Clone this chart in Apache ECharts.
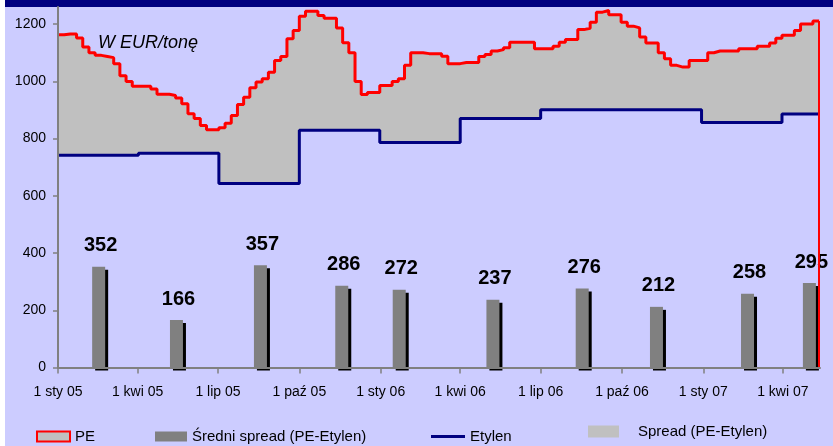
<!DOCTYPE html>
<html>
<head>
<meta charset="utf-8">
<script src="https://cdn.jsdelivr.net/npm/echarts@6/dist/echarts.min.js"></script>
<style>
  html, body { margin: 0; padding: 0; background: #fff; }
  #chart {
    width: 833px;
    height: 446px;
    background:
      linear-gradient(#000080, #000080) 5px 0 / 828px 7px no-repeat,
      linear-gradient(#ccccff, #ccccff) 5px 0 / 828px 446px no-repeat,
      #fff;
  }
</style>
</head>
<body>
<div id="chart"></div>
<script>
// tygodniowe notowania od 1 sty 05
const peWeekly = [
  1163, 1166, 1166, 1152, 1120, 1100, 1091, 1087, 1083, 1062,
  1020, 1000, 983, 983, 983, 973, 955, 955, 951, 942,
  922, 887, 870, 846, 831, 831, 838, 854, 881, 919,
  945, 978, 998, 1009, 1032, 1073, 1087, 1149, 1178, 1228,
  1245, 1245, 1230, 1221, 1221, 1187, 1135, 1100, 1000, 954,
  961, 961, 986, 986, 1000, 1009, 1056, 1100, 1100, 1097,
  1097, 1097, 1088, 1062, 1062, 1066, 1066, 1066, 1087, 1094,
  1106, 1111, 1118, 1137, 1137, 1137, 1137, 1114, 1114, 1114,
  1123, 1137, 1146, 1146, 1181, 1186, 1207, 1242, 1248, 1233,
  1233, 1207, 1193, 1187, 1155, 1134, 1134, 1100, 1079, 1056,
  1050, 1050, 1073, 1073, 1073, 1100, 1106, 1106, 1106, 1106,
  1114, 1114, 1114, 1123, 1123, 1134, 1151, 1161, 1161, 1178,
  1201, 1201, 1211, 1211
]
const etylenWeekly = [
  742, 742, 742, 742, 742, 742, 742, 742, 742, 742, 742, 742, 742,
  749, 749, 749, 749, 749, 749, 749, 749, 749, 749, 749, 749, 749,
  643, 643, 643, 643, 643, 643, 643, 643, 643, 643, 643, 643, 643,
  829, 829, 829, 829, 829, 829, 829, 829, 829, 829, 829, 829, 829,
  786, 786, 786, 786, 786, 786, 786, 786, 786, 786, 786, 786, 786,
  870, 870, 870, 870, 870, 870, 870, 870, 870, 870, 870, 870, 870,
  901, 901, 901, 901, 901, 901, 901, 901, 901, 901, 901, 901, 901,
  901, 901, 901, 901, 901, 901, 901, 901, 901, 901, 901, 901, 901,
  856, 856, 856, 856, 856, 856, 856, 856, 856, 856, 856, 856, 856,
  886, 886, 886, 886, 886, 886, 886
]
// średni spread kwartalny
const spreadDates = ['2005-02-16', '2005-05-15', '2005-08-18', '2005-11-18', '2006-01-22',
  '2006-05-08', '2006-08-17', '2006-11-09', '2007-02-20', '2007-05-01']
const spreadValues = [352, 166, 357, 286, 272, 237, 276, 212, 258, 295]
const quarterStarts = [
  [2005, 0], [2005, 3], [2005, 6], [2005, 9],
  [2006, 0], [2006, 3], [2006, 6], [2006, 9],
  [2007, 0], [2007, 3]
]
const monthNames = { 0: 'sty', 3: 'kwi', 6: 'lip', 9: 'paź' }
const yTicks = [0, 200, 400, 600, 800, 1000, 1200]

const weekDates = peWeekly.map((v, i) => +new Date(2005, 0, 1 + 7 * i))
const quarterTicks = quarterStarts.map(q => +new Date(q[0], q[1], 1))
const toTime = s => {
  let p = s.split('-').map(Number)
  return +new Date(p[0], p[1] - 1, p[2])
}
const lastIdx = peWeekly.length - 1
const bgColor = '#ccccff'

const font = '"Liberation Sans", Arial, sans-serif'
const legendText = { fontSize: 15, color: '#000', fontFamily: font }
const chart = echarts.init(document.getElementById('chart'))

chart.setOption({
  backgroundColor: 'transparent',
  textStyle: { fontFamily: font },
  animation: false,
  title: {
    text: 'W EUR/tonę',
    left: 93,
    top: 29,
    textStyle: { fontFamily: font, fontStyle: 'italic', fontWeight: 'normal', fontSize: 18, color: '#000' }
  },
  grid: { left: 58, right: 13, top: 7, bottom: 78.5 },
  legend: [
    {
      left: 36, top: 429, padding: 0, itemWidth: 33, itemHeight: 10,
      textStyle: legendText,
      data: [{ name: 'PE', icon: 'rect', itemStyle: { color: '#c0c0c0', borderColor: '#ff0000', borderWidth: 2 } }]
    },
    {
      left: 155, top: 429, padding: 0, itemWidth: 32, itemHeight: 10,
      textStyle: legendText,
      data: [{ name: 'Średni spread (PE-Etylen)', icon: 'rect', itemStyle: { color: '#808080', shadowColor: 'transparent', shadowOffsetX: 0, shadowOffsetY: 0 } }]
    },
    {
      left: 431, top: 429, padding: 0, itemWidth: 34, itemHeight: 3,
      textStyle: legendText,
      data: [{ name: 'Etylen', icon: 'rect', itemStyle: { color: '#000080' } }]
    },
    {
      left: 588, top: 424, padding: 0, itemWidth: 31, itemHeight: 12,
      textStyle: Object.assign({ padding: [0, 0, 0, 14] }, legendText),
      data: [{ name: 'Spread (PE-Etylen)', icon: 'rect', itemStyle: { color: '#c0c0c0', borderWidth: 0 } }]
    }
  ],
  xAxis: {
    type: 'value',
    min: +new Date(2005, 0, 1),
    max: +new Date(2007, 4, 13),
    z: 10,
    axisLine: { lineStyle: { color: '#808080', width: 2 } },
    axisTick: { customValues: quarterTicks, length: 6, lineStyle: { color: '#808080', width: 1.5 } },
    axisLabel: {
      customValues: quarterTicks,
      margin: 18,
      fontSize: 14,
      color: '#000',
      fontFamily: font,
      formatter: function (value) {
        let d = new Date(value)
        let yy = String(d.getFullYear()).slice(2)
        return '1 ' + monthNames[d.getMonth()] + ' ' + yy
      }
    },
    splitLine: { show: false }
  },
  yAxis: {
    type: 'value',
    min: 0,
    max: 1260,
    z: 10,
    axisLine: { show: true, lineStyle: { color: '#808080', width: 2 } },
    axisTick: { show: true, customValues: yTicks, length: 5, lineStyle: { color: '#808080', width: 1.5 } },
    axisLabel: {
      customValues: yTicks,
      margin: 12,
      fontSize: 14,
      color: '#000',
      fontFamily: font,
      formatter: v => String(v)
    },
    splitLine: { show: false }
  },
  series: [
    {
      // PE: obszar do zera (szary), czerwony kontur
      name: 'PE',
      type: 'line',
      step: 'end',
      showSymbol: false,
      symbol: 'none',
      z: 2,
      color: '#ff0000',
      lineStyle: { color: '#ff0000', width: 3 },
      areaStyle: { color: '#c0c0c0', opacity: 1 },
      data: weekDates.map((t, i) => [t, peWeekly[i]]),
      markLine: {
        silent: true,
        symbol: 'none',
        z: 8,
        label: { show: false },
        lineStyle: { color: '#ff0000', width: 2, type: 'solid' },
        data: [
          { yAxis: 0 },
          [{ coord: [weekDates[lastIdx], 0] }, { coord: [weekDates[lastIdx], peWeekly[lastIdx]] }]
        ]
      }
    },
    {
      // etylen przykrywa obszar pod sobą kolorem tła -> zostaje spread
      name: 'Etylen',
      type: 'line',
      step: 'end',
      showSymbol: false,
      symbol: 'none',
      z: 3,
      color: '#000080',
      lineStyle: { color: '#000080', width: 3 },
      areaStyle: { color: bgColor, opacity: 1 },
      data: weekDates.map((t, i) => [t, etylenWeekly[i]])
    },
    {
      name: 'Spread (PE-Etylen)',
      type: 'line',
      color: '#c0c0c0',
      data: []
    },
    {
      name: 'Średni spread (PE-Etylen)',
      type: 'bar',
      barWidth: 13,
      z: 6,
      itemStyle: {
        color: '#808080',
        shadowColor: '#000',
        shadowBlur: 0,
        shadowOffsetX: 3,
        shadowOffsetY: 3
      },
      label: {
        show: true,
        position: 'top',
        distance: 11,
        offset: [2, 0],
        fontSize: 20,
        fontWeight: 'bold',
        color: '#000',
        fontFamily: font
      },
      data: spreadDates.map((d, i) => [toTime(d), spreadValues[i]])
    }
  ]
})
</script>
</body>
</html>
